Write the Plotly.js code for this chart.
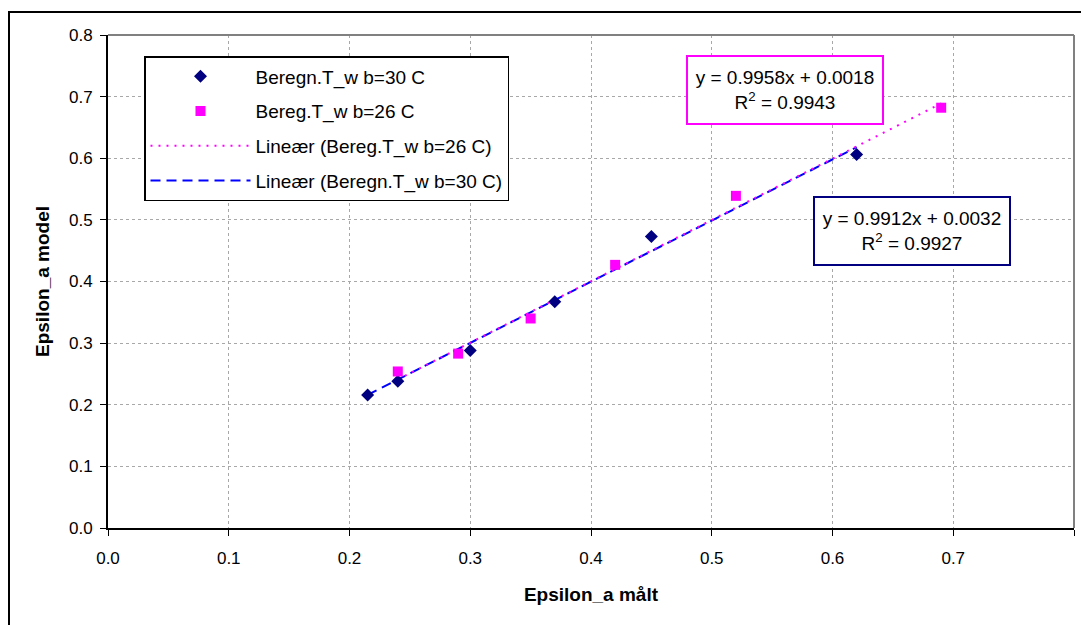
<!DOCTYPE html>
<html>
<head>
<meta charset="utf-8">
<script src="https://cdn.plot.ly/plotly-3.0.1.min.js"></script>
<style>
html,body{margin:0;padding:0;background:#fff;}
#chart{width:1081px;height:625px;}
</style>
</head>
<body>
<div id="chart"></div>
<script>
// Data
var x30 = [0.215, 0.24, 0.30, 0.37, 0.45, 0.62];
var y30 = [0.216, 0.238, 0.288, 0.367, 0.473, 0.606];
var x26 = [0.24, 0.29, 0.35, 0.42, 0.52, 0.69];
var y26 = [0.254, 0.283, 0.340, 0.427, 0.539, 0.682];
// Trend line endpoints (as drawn in the picture)
var trend26x = [0.24, 0.69];
var trend26y = [0.241, 0.689];
var trend30x = [0.215, 0.62];
var trend30y = [0.216, 0.618];
var name30 = 'Beregn.T_w b=30 C';
var name26 = 'Bereg.T_w b=26 C';
var nameT26 = 'Lineær (Bereg.T_w b=26 C)';
var nameT30 = 'Lineær (Beregn.T_w b=30 C)';
var eq26 = 'y = 0.9958x + 0.0018<br>R<sup>2</sup> = 0.9943';
var eq30 = 'y = 0.9912x + 0.0032<br>R<sup>2</sup> = 0.9927';
var xTicks = [0, 0.1, 0.2, 0.3, 0.4, 0.5, 0.6, 0.7, 0.8];
var yTicks = [0, 0.1, 0.2, 0.3, 0.4, 0.5, 0.6, 0.7, 0.8];

var FONT = 'Liberation Sans, Arial, sans-serif';

var traces = [
  {x: trend30x, y: trend30y, mode: 'lines', name: nameT30, legendrank: 4, legendgroup: 'd',
   line: {color: '#0000FF', width: 2, dash: '10px,6px'}, hoverinfo: 'skip'},
  {x: trend26x, y: trend26y, mode: 'lines', name: nameT26, legendrank: 3, legendgroup: 'c',
   line: {color: '#FF00FF', width: 2, dash: '2px,6px'}, hoverinfo: 'skip'},
  {x: x30, y: y30, mode: 'markers', name: name30, legendrank: 1, legendgroup: 'a',
   marker: {symbol: 'diamond', size: 10, color: '#000080'}},
  {x: x26, y: y26, mode: 'markers', name: name26, legendrank: 2, legendgroup: 'b',
   marker: {symbol: 'square', size: 10, color: '#FF00FF'}}
];

var layout = {
  width: 1081, height: 625,
  margin: {l: 108, r: 7, t: 35, b: 97},
  paper_bgcolor: '#ffffff', plot_bgcolor: '#ffffff',
  font: {family: FONT, size: 17, color: '#000'},
  showlegend: true,
  legend: {
    x: (144 - 108) / 966, y: (528 - 56) / 493, xanchor: 'left', yanchor: 'top',
    bgcolor: '#ffffff', bordercolor: '#000', borderwidth: 1.5,
    font: {family: FONT, size: 19, color: '#000'},
    traceorder: 'grouped', tracegroupgap: 7, itemwidth: 100,
    entrywidth: 392, entrywidthmode: 'pixels'
  },
  xaxis: {
    range: [0, 0.8], tickvals: xTicks, tickformat: '.1f',
    showgrid: true, gridcolor: '#a8a8a8', griddash: 'dot', gridwidth: 1,
    showline: true, linecolor: '#000', linewidth: 2,
    ticks: 'outside', ticklen: 6, tickcolor: '#000', tickwidth: 1,
    ticklabelstandoff: 8, zeroline: false, tickfont: {family: FONT, size: 17},
    title: {text: '<b>Epsilon_a målt</b>', font: {family: FONT, size: 19}, standoff: 20}
  },
  yaxis: {
    range: [0, 0.8], tickvals: yTicks, tickformat: '.1f',
    showgrid: true, gridcolor: '#a8a8a8', griddash: 'dot', gridwidth: 1,
    showline: true, linecolor: '#000', linewidth: 2,
    ticks: 'outside', ticklen: 6, tickcolor: '#000', tickwidth: 1,
    ticklabelstandoff: 4, zeroline: false, tickfont: {family: FONT, size: 17},
    title: {text: '<b>Epsilon_a model</b>', font: {family: FONT, size: 19}, standoff: 14}
  },
  shapes: [
    {type: 'line', xref: 'paper', yref: 'paper', x0: 0, x1: 1, y0: 1, y1: 1, line: {color: '#808080', width: 2}},
    {type: 'line', xref: 'paper', yref: 'paper', x0: 1, x1: 1, y0: 0, y1: 1, line: {color: '#808080', width: 2}},
    {type: 'rect', xref: 'paper', yref: 'paper', x0: (9 - 108) / 966, x1: 1.1, y0: -0.3, y1: (528 - 12) / 493,
     line: {color: '#000', width: 2}, fillcolor: 'rgba(0,0,0,0)', layer: 'below'}
  ],
  annotations: [
    {xref: 'paper', yref: 'paper', x: (785 - 108) / 966, y: (528 - 90) / 493, xanchor: 'center', yanchor: 'middle',
     text: eq26, showarrow: false, align: 'center', font: {family: FONT, size: 19, color: '#000'},
     bgcolor: '#fff', bordercolor: '#FF00FF', borderwidth: 2, borderpad: 2, width: 190, height: 62},
    {xref: 'paper', yref: 'paper', x: (911.5 - 108) / 966, y: (528 - 231) / 493, xanchor: 'center', yanchor: 'middle',
     text: eq30, showarrow: false, align: 'center', font: {family: FONT, size: 19, color: '#000'},
     bgcolor: '#fff', bordercolor: '#000080', borderwidth: 2, borderpad: 2, width: 190, height: 62}
  ]
};

Plotly.newPlot('chart', traces, layout, {displayModeBar: false, staticPlot: true});
</script>
</body>
</html>
